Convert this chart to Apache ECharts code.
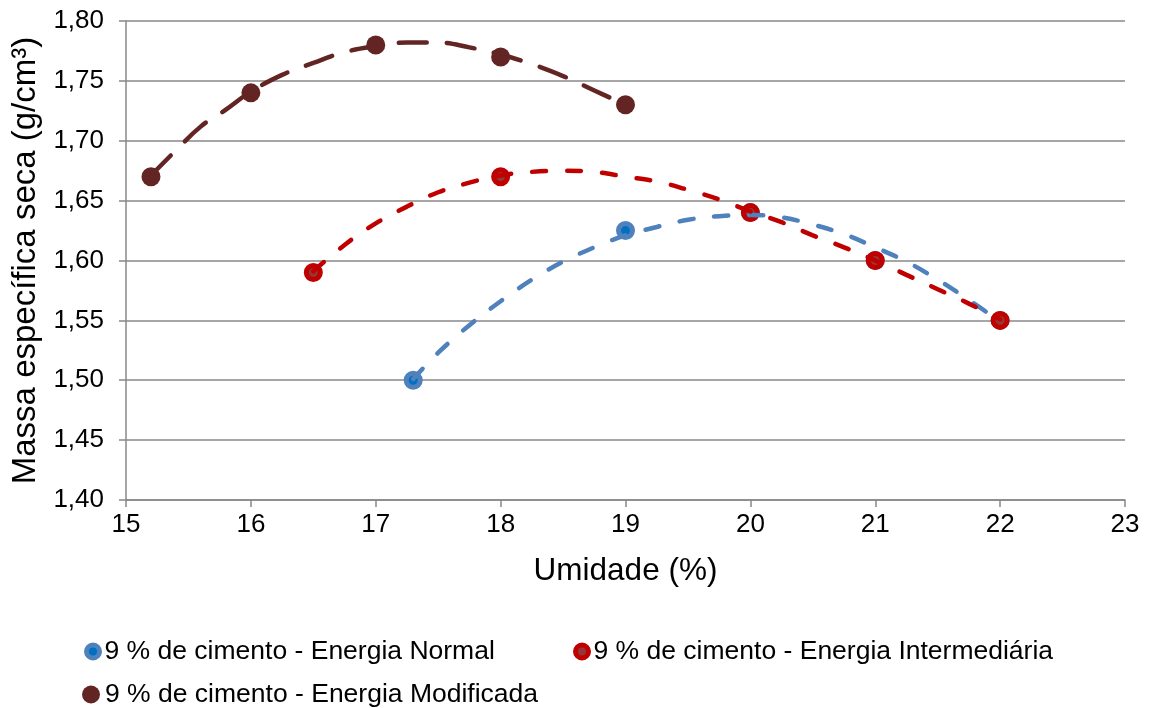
<!DOCTYPE html>
<html>
<head>
<meta charset="utf-8">
<script src="https://cdn.jsdelivr.net/npm/echarts@6/dist/echarts.min.js"></script>
<style>
html,body{margin:0;padding:0;background:#fff;}
#chart{width:1149px;height:708px;}
</style>
</head>
<body>
<div id="chart"></div>
<script>
// ---- Data ----
const seriesNames = [
  '9 % de cimento - Energia Normal',
  '9 % de cimento - Energia Intermediária',
  '9 % de cimento - Energia Modificada'
];
// measured points
const normalX = [17.3, 19, 20, 21, 22];
const normalY = [1.50, 1.625, 1.64, 1.60, 1.55];
const interX = [16.5, 18, 20, 21, 22];
const interY = [1.59, 1.67, 1.64, 1.60, 1.55];
const modX = [15.2, 16, 17, 18, 19];
const modY = [1.67, 1.74, 1.78, 1.77, 1.73];
// trend lines
const trendNormalX = [17.3, 17.5, 17.75, 18.0, 18.25, 18.5, 18.75, 19.0, 19.25, 19.5, 19.75, 20.0, 20.25, 20.5, 20.75, 21.0, 21.25, 21.5, 21.75, 22.0];
const trendNormalY = [1.501, 1.523, 1.546, 1.566, 1.584, 1.599, 1.611, 1.621, 1.628, 1.634, 1.637, 1.638, 1.636, 1.630, 1.622, 1.611, 1.599, 1.584, 1.567, 1.549];
const trendInterX = [16.5, 16.75, 17.0, 17.25, 17.5, 17.75, 18.0, 18.25, 18.5, 18.75, 19.0, 19.25, 19.5, 19.75, 20.0, 20.25, 20.5, 20.75, 21.0, 21.25, 21.5, 21.75, 22.0];
const trendInterY = [1.591, 1.613, 1.631, 1.645, 1.657, 1.665, 1.671, 1.674, 1.675, 1.674, 1.670, 1.666, 1.659, 1.651, 1.641, 1.632, 1.621, 1.611, 1.600, 1.588, 1.576, 1.564, 1.551];
const trendModX = [15.2, 15.4, 15.6, 15.8, 16.0, 16.25, 16.5, 16.75, 17.0, 17.25, 17.5, 17.75, 18.0, 18.25, 18.5, 18.75, 19.0];
const trendModY = [1.671, 1.692, 1.712, 1.726, 1.741, 1.755, 1.765, 1.774, 1.779, 1.782, 1.782, 1.778, 1.772, 1.764, 1.754, 1.742, 1.730];
// axis ticks
const xTicks = {min: 15, max: 23, interval: 1};
const yTicks = {min: 1.40, max: 1.80, interval: 0.05};

const pair = (xs, ys) => xs.map((x, i) => [x, ys[i]]);

const FONT = "'Liberation Sans', Arial, sans-serif";
const GRID_COLOR = '#888888';

const chart = echarts.init(document.getElementById('chart'), null, {renderer: 'canvas'});

function scatter(name, data, fill, border, bw, size) {
  return {
    name: name, type: 'scatter', data: data, symbol: 'circle', symbolSize: size,
    itemStyle: {color: fill, borderColor: border, borderWidth: bw, opacity: 1},
    z: 2, silent: true
  };
}
function trend(data, color, dash) {
  return {
    type: 'line', data: data, smooth: 0.4, showSymbol: false, symbol: 'none',
    lineStyle: {color: color, width: 4.5, type: dash, cap: 'round'},
    z: 3, silent: true
  };
}

function legendAt(name, fill, border, bw, size, left, top) {
  return {
    data: [{name: name, icon: 'circle', itemStyle: {color: fill, borderColor: border, borderWidth: bw}}],
    left: left, top: top, orient: 'horizontal',
    itemWidth: size, itemHeight: size, itemGap: 0, padding: 0,
    textStyle: {fontFamily: FONT, fontSize: 26.5, color: '#000', padding: [0, 0, 0, 0]},
    selectedMode: false
  };
}

chart.setOption({
  animation: false,
  backgroundColor: '#fff',
  grid: {left: 126, right: 24, top: 21, bottom: 208, containLabel: false},
  legend: [
    legendAt(seriesNames[0], '#0070C0', '#4F81BD', 5, 13, 84, 638),
    legendAt(seriesNames[1], '#953735', '#C00000', 5, 13, 573, 638),
    legendAt(seriesNames[2], '#632523', '#632523', 0, 18, 82, 681)
  ],
  xAxis: {
    type: 'value', min: xTicks.min, max: xTicks.max, interval: xTicks.interval,
    name: 'Umidade (%)', nameLocation: 'middle', nameGap: 55,
    nameTextStyle: {fontFamily: FONT, fontSize: 31.5, color: '#000'},
    axisLine: {show: true, lineStyle: {color: GRID_COLOR, width: 1.5}},
    axisTick: {show: true, length: 7, inside: false, lineStyle: {color: GRID_COLOR, width: 1.5}},
    splitLine: {show: false},
    axisLabel: {fontFamily: FONT, fontSize: 26, color: '#000', margin: 12}
  },
  yAxis: {
    type: 'value', min: yTicks.min, max: yTicks.max, interval: yTicks.interval,
    name: 'Massa específica seca (g/cm³)', nameLocation: 'middle', nameGap: 84,
    nameTextStyle: {fontFamily: FONT, fontSize: 33, color: '#000'},
    axisLine: {show: true, lineStyle: {color: GRID_COLOR, width: 1.5}},
    axisTick: {show: true, length: 7, inside: false, lineStyle: {color: GRID_COLOR, width: 1.5}},
    splitLine: {show: true, lineStyle: {color: GRID_COLOR, width: 1.5}},
    axisLabel: {
      fontFamily: FONT, fontSize: 26, color: '#000', margin: 22,
      formatter: v => v.toFixed(2).replace('.', ',')
    }
  },
  series: [
    scatter(seriesNames[0], pair(normalX, normalY), '#0070C0', '#4F81BD', 5, 14),
    scatter(seriesNames[1], pair(interX, interY), '#953735', '#C00000', 5, 14),
    scatter(seriesNames[2], pair(modX, modY), '#632523', '#632523', 0, 19),
    trend(pair(trendNormalX, trendNormalY), '#4F81BD', [14, 21]),
    trend(pair(trendInterX, trendInterY), '#C00000', [14, 21]),
    trend(pair(trendModX, trendModY), '#632523', [28, 20])
  ]
});
</script>
</body>
</html>
